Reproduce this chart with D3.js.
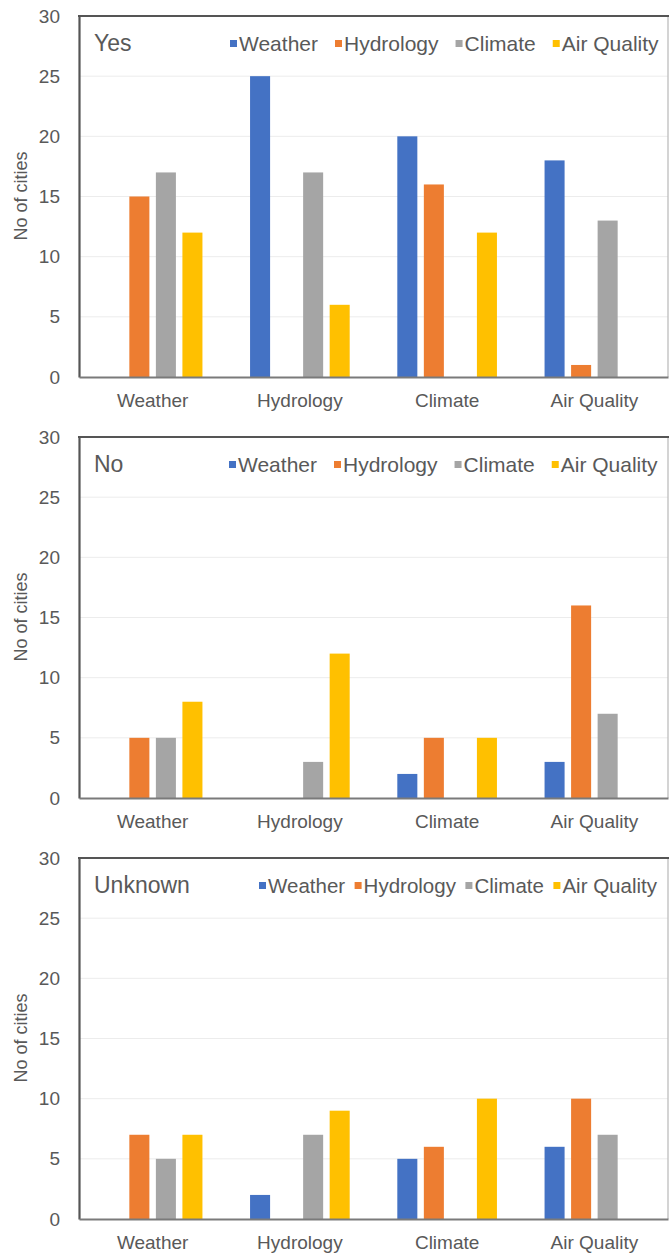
<!DOCTYPE html>
<html>
<head>
<meta charset="utf-8">
<script src="https://cdn.jsdelivr.net/npm/d3@7"></script>
<style>
  html, body { margin: 0; padding: 0; background: #fff; }
  svg { display: block; font-family: "Liberation Sans", Arial, sans-serif; }
</style>
</head>
<body>
<svg id="chart" width="669" height="1254"></svg>
<script>
// Groups along the x axis and the series within each group
const categories = ["Weather", "Hydrology", "Climate", "Air Quality"];
const seriesNames = ["Weather", "Hydrology", "Climate", "Air Quality"];
const panelTitles = ["Yes", "No", "Unknown"];
const yTicks = [0, 5, 10, 15, 20, 25, 30];

// Number of cities: one row per category, one value per series
const yesValues = [
  [0, 15, 17, 12],
  [25, 0, 17, 6],
  [20, 16, 0, 12],
  [18, 1, 13, 0]
];
const noValues = [
  [0, 5, 5, 8],
  [0, 0, 3, 12],
  [2, 5, 0, 5],
  [3, 16, 7, 0]
];
const unknownValues = [
  [0, 7, 5, 7],
  [2, 0, 7, 9],
  [5, 6, 0, 10],
  [6, 10, 7, 0]
];

const colors = ["#4472C4", "#ED7D31", "#A5A5A5", "#FFC000"];

const panels = [
  { title: panelTitles[0], values: yesValues, top: 16, legendX: 230, legendGap: 17, legendFont: 21 },
  { title: panelTitles[1], values: noValues, top: 437, legendX: 229, legendGap: 17, legendFont: 21 },
  { title: panelTitles[2], values: unknownValues, top: 858, legendX: 259, legendGap: 9.5, legendFont: 20.5 }
];

const svg = d3.select("#chart");
const left = 79, right = 668, plotH = 361;
const textColor = "#595959";

const x0 = d3.scaleBand().domain(categories).range([left, right]).paddingInner(0).paddingOuter(0);
const groupW = 106;
const x1 = d3.scaleBand().domain(seriesNames)
  .range([(x0.bandwidth() - groupW) / 2, (x0.bandwidth() + groupW) / 2])
  .paddingInner(0.245).paddingOuter(0.12);

panels.forEach(p => {
  const y = d3.scaleLinear().domain([0, 30]).range([p.top + plotH, p.top]);
  const g = svg.append("g");

  // Horizontal gridlines
  g.selectAll("line.grid").data(yTicks.filter(t => t > 0 && t < 30)).join("line")
    .attr("class", "grid")
    .attr("x1", left).attr("x2", right)
    .attr("y1", d => y(d)).attr("y2", d => y(d))
    .attr("stroke", "#ececec").attr("stroke-width", 1);

  // Bars
  const groups = g.selectAll("g.cat").data(categories).join("g")
    .attr("class", "cat")
    .attr("transform", d => `translate(${x0(d)},0)`);
  groups.selectAll("rect").data((d, i) => p.values[i].map((v, j) => ({ s: seriesNames[j], v, j })))
    .join("rect")
    .attr("x", d => x1(d.s))
    .attr("width", x1.bandwidth())
    .attr("y", d => y(d.v))
    .attr("height", d => y(0) - y(d.v))
    .attr("fill", d => colors[d.j]);

  // Plot frame: right edge light, top and left dark, zero line below
  g.append("line").attr("x1", right).attr("x2", right).attr("y1", p.top).attr("y2", y(0))
    .attr("stroke", "#b8b8b8").attr("stroke-width", 1.2);
  g.append("line").attr("x1", left - 1).attr("x2", right + 1).attr("y1", p.top).attr("y2", p.top)
    .attr("stroke", "#555").attr("stroke-width", 2.2);

  const yAxis = d3.axisLeft(y).tickValues(yTicks).tickSize(0).tickPadding(19);
  const ya = g.append("g").attr("transform", `translate(${left},0)`).call(yAxis);
  ya.select(".domain").attr("stroke", "#555").attr("stroke-width", 2.2);
  ya.selectAll("text").attr("fill", textColor).attr("font-size", 19);

  const xAxis = d3.axisBottom(x0).tickSize(0).tickPadding(17);
  const xa = g.append("g").attr("transform", `translate(0,${y(0)})`).call(xAxis);
  xa.select(".domain").attr("stroke", "#7a7a7a").attr("stroke-width", 2);
  xa.selectAll("text").attr("fill", textColor).attr("font-size", 19);

  // Panel title
  g.append("text").attr("x", 94).attr("y", p.top + 35)
    .attr("fill", textColor).attr("font-size", 23).text(p.title);

  // Legend
  const leg = g.append("g").attr("transform", `translate(${p.legendX},${p.top + 28})`);
  let cx = 0;
  seriesNames.forEach((s, j) => {
    leg.append("rect").attr("x", cx).attr("y", -4).attr("width", 7).attr("height", 7).attr("fill", colors[j]);
    const t = leg.append("text").attr("x", cx + 9).attr("y", 7)
      .attr("fill", textColor).attr("font-size", p.legendFont).text(s);
    cx += 9 + t.node().getComputedTextLength() + p.legendGap;
  });

  // Y axis label
  g.append("text")
    .attr("transform", `translate(27,${p.top + 180}) rotate(-90)`)
    .attr("text-anchor", "middle").attr("fill", textColor).attr("font-size", 18)
    .text("No of cities");
});
</script>
</body>
</html>
